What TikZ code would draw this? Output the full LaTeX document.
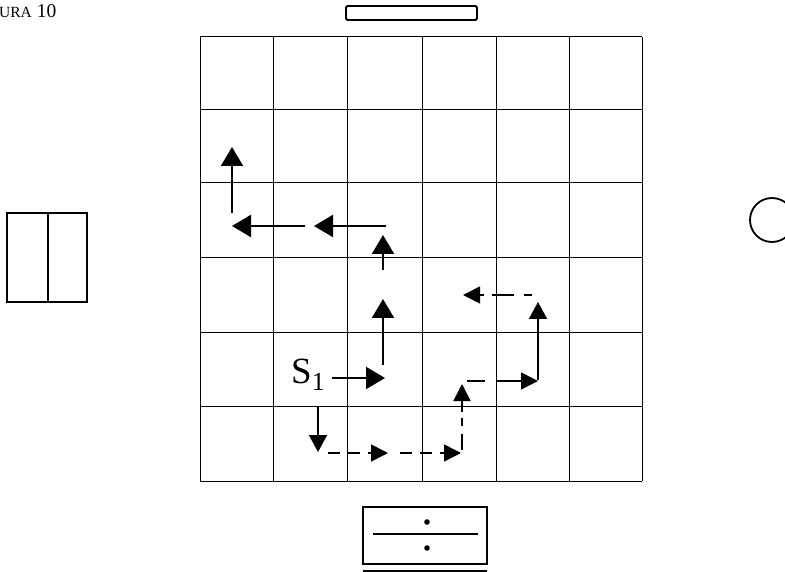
\documentclass[tikz,border=0pt]{standalone}
\usepackage{fontspec}
\setmainfont{Liberation Serif}
\usetikzlibrary{arrows.meta}
\tikzset{
  gridline/.style={line width=1pt, black},
  boxline/.style={line width=1.8pt, black},
  bigarrow/.style={line width=2pt, -{Triangle[length=19pt,width=22pt]}},
  dasharrow/.style={line width=1.6pt, dash pattern=on 12pt off 8pt, -{Triangle[length=17pt,width=17pt]}},
  solidarrowsmall/.style={line width=1.8pt, -{Triangle[length=17pt,width=18pt]}},
}
\begin{document}
\begin{tikzpicture}[x=1pt,y=-1pt]
\useasboundingbox (0,0) rectangle (785,572);
\clip (0,0) rectangle (785,572);
% title
\node[anchor=base west, inner sep=0pt] (title) at (-1,18) {\fontsize{15.5}{15}\selectfont URA\fontsize{19.5}{19}\selectfont\ 10};
% top bar
\draw[boxline, rounded corners=1.5pt] (346,6) rectangle (477,20);
% left box
\draw[boxline] (7,213) rectangle (87,302);
\draw[boxline] (48,213) -- (48,302);
% right circle
\draw[line width=1.8pt] (772,220) circle (22);
% bottom box
\draw[boxline] (363,507) rectangle (487,564);
\draw[line width=1.4pt] (373,534) -- (478,534);
\fill (427,522) circle (2.8);
\fill (427,548) circle (2.8);
\draw[line width=1.8pt] (363,571) -- (487,571);
% grid
\foreach \x in {200,273,347,422,496,569,642} \draw[gridline] (\x,37) -- (\x,481);
\foreach \y in {37,110,183,258,332,406,481} \draw[gridline] (200,\y) -- (642,\y);
% label
\node[anchor=base west, inner sep=0pt] (s1) at (291,383) {\fontsize{37}{37}\selectfont S\raisebox{-7pt}{\fontsize{26}{26}\selectfont 1}};
% solid path coordinates
\coordinate (a1s) at (332,378); \coordinate (a1e) at (385,378);
\coordinate (a2s) at (383,365); \coordinate (a2e) at (383,299);
\coordinate (a3s) at (383,270); \coordinate (a3e) at (383,235);
\coordinate (a4s) at (386,226); \coordinate (a4e) at (314,226);
\coordinate (a5s) at (305,226); \coordinate (a5e) at (232,226);
\coordinate (a6s) at (232,213); \coordinate (a6e) at (232,147);
\draw[bigarrow] (a1s) -- (a1e);
\draw[bigarrow] (a2s) -- (a2e);
\draw[bigarrow] (a3s) -- (a3e);
\draw[bigarrow] (a4s) -- (a4e);
\draw[bigarrow] (a5s) -- (a5e);
\draw[bigarrow] (a6s) -- (a6e);
% dashed path coordinates
\coordinate (b1s) at (318,407); \coordinate (b1e) at (318,452);
\coordinate (b2s) at (328,453); \coordinate (b2e) at (388,453);
\coordinate (b3s) at (400,453); \coordinate (b3e) at (461,453);
\coordinate (b4s) at (462,450); \coordinate (b4e) at (462,384);
\coordinate (b5s) at (467,381); \coordinate (b5e) at (538,381);
\coordinate (b6s) at (538,380); \coordinate (b6e) at (538,302);
\coordinate (b7s) at (532,295); \coordinate (b7e) at (463,295);
\draw[solidarrowsmall] (b1s) -- (b1e);
\draw[dasharrow] (b2s) -- (b2e);
\draw[dasharrow] (b3s) -- (b3e);
\draw[dasharrow, dash pattern=on 16pt off 8pt on 8pt off 6pt] (b4s) -- (b4e);
\draw[dasharrow, dash pattern=on 18pt off 12pt on 60pt] (b5s) -- (b5e);
\draw[solidarrowsmall] (b6s) -- (b6e);
\draw[dasharrow, dash pattern=on 8pt off 10pt on 22pt off 8pt] (b7s) -- (b7e);
\end{tikzpicture}
\end{document}
